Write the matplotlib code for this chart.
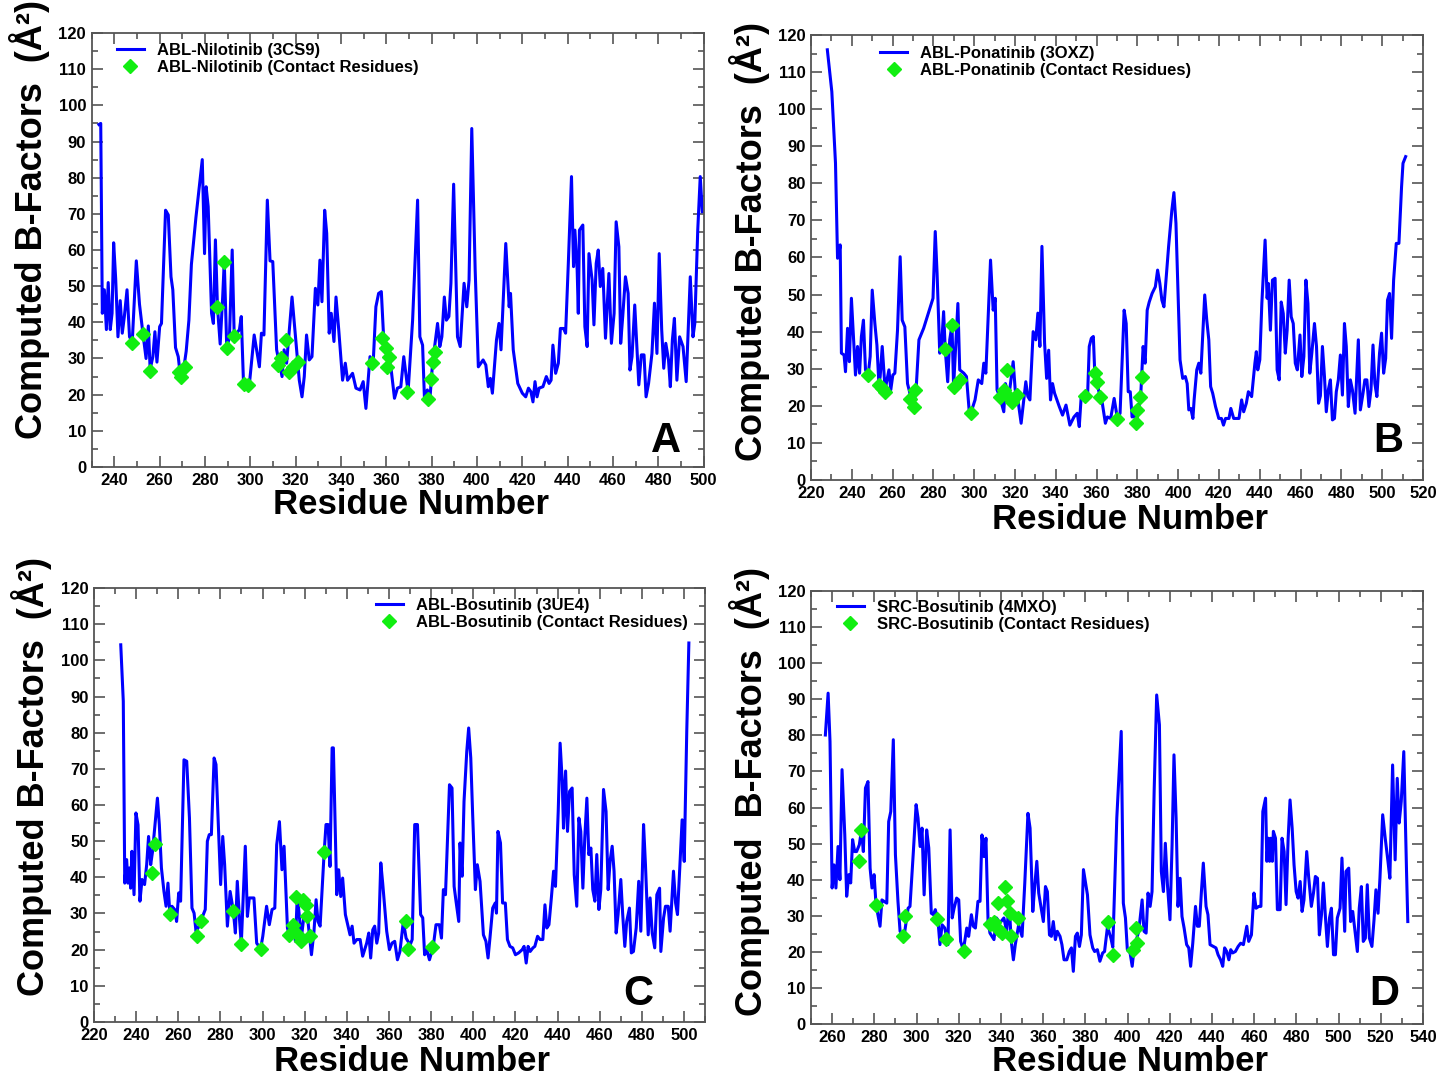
import numpy as np
import matplotlib
matplotlib.use('Agg')
import matplotlib.pyplot as plt
from matplotlib.ticker import MultipleLocator

plt.rcParams['font.family'] = ['Liberation Sans', 'DejaVu Sans']
plt.rcParams['font.weight'] = 'bold'

# ---------------- panel A : ABL-Nilotinib (3CS9) ----------------
a_res = [233.2, 234, 234.7, 235.6, 236.5, 237.3, 238.2, 239, 239.7, 240.6, 241.6, 242.6, 243.5, 244.4,
         245.6, 246.7, 247.9, 249.7, 251.1, 252.6, 254, 255, 255.8, 257, 257.9, 258.8, 260, 260.8,
         262.6, 263.8, 265, 265.8, 267, 268.2, 269, 270, 271.7, 272.9, 274, 276, 278.8, 279.8, 280.5,
         281.4, 282.9, 283.7, 284.6, 285.5, 286.7, 287.8, 288.5, 289.6, 290.8, 292, 292.9, 295.2, 296,
         297, 299.6, 301.7, 304, 304.9, 306, 307.5, 308.7, 309.9, 311.6, 312.8, 314, 314.9, 316, 318.4,
         320.2, 321.6, 322.8, 323.8, 324.8, 326, 327.2, 328.7, 329.8, 330.7, 331.6, 332.8, 333.7, 334.8,
         335.7, 336.9, 337.8, 339, 340.7, 341.9, 342.9, 345.1, 346.6, 348.4, 349.8, 351, 352.8, 354.2,
         355.4, 356.6, 357.8, 358.9, 362, 363.6, 364.9, 366.4, 367.7, 369.6, 371.6, 373.8, 374.8, 376,
         376.8, 378.1, 379.2, 380.4, 382.6, 383.6, 384.5, 385.6, 386.5, 387.6, 388.5, 389.7, 391.4,
         392.6, 394.3, 395.5, 396.5, 397.7, 399.2, 400.6, 402.7, 403.9, 405, 405.9, 406.8, 408.6, 409.7,
         410.6, 412.7, 414.2, 414.8, 416, 418, 420, 421.5, 422.7, 423.8, 424.7, 425.6, 426.5, 427.4,
         429.1, 430.6, 431.8, 432.7, 433.5, 434.7, 435.9, 436.8, 438.2, 439.1, 440.3, 441.7, 442.6,
         443.2, 444.2, 444.7, 445.2, 446.7, 447.6, 448.6, 449.4, 450.8, 451.6, 452.6, 453.5, 454.4,
         455.5, 456.7, 458.2, 459.3, 460.5, 461.4, 462.6, 463.4, 464.3, 465.5, 466.7, 467.5, 468.4,
         469.6, 471.4, 472.5, 473.7, 474.6, 475.7, 477.2, 478.3, 479.4, 480.4, 481.5, 482.4, 483.3,
         484.5, 485.3, 486.2, 487.1, 488.2, 489.4, 490.9, 492.3, 494.1, 495.3, 496.1, 497.4, 498.5, 499.4]
a_bf = [94.7, 95, 42.5, 49, 38, 51, 38, 42.5, 62, 52, 36, 46, 37, 41.5,
        49, 36, 34.6, 57, 45, 37, 30, 39, 27, 30.5, 37.4, 29, 38.8, 39.7,
        71, 69.7, 52.6, 49, 33, 30.5, 26, 24.5, 32, 40.6, 56, 69, 85, 59, 77.5,
        72, 42.5, 39.7, 62.8, 44.3, 34, 47, 56.8, 33, 36, 60, 36, 38, 41.6,
        23, 23, 36.5, 27.7, 37, 36.5, 73.8, 57, 56.8, 32.4, 28.7, 25, 32.4, 28.7, 47,
        34.2, 24, 19.4, 25, 36.5, 29.6, 30.5, 49.4, 44.8, 57.2, 45.7, 71, 64.6, 37,
        42.5, 34.7, 47, 38, 24, 28.7, 24, 25.9, 21.8, 21.3, 23.6, 16.2, 30.5, 28.7,
        44.3, 48, 48.5, 34.7, 27.7, 19, 21.8, 22.2, 30.5, 20.8, 40.6, 73.8, 36, 33.7,
        19.4, 21.3, 18.5, 28.7, 39.7, 33.3, 36, 47, 40.6, 41.6, 50.8, 78.2, 36,
        33.3, 50.8, 44.3, 51.7, 93.6, 54.5, 27.7, 29.6, 28.2, 22.2, 24.5, 20.4, 35.1, 39.7,
        32.4, 61.8, 44.3, 48, 32.4, 23.1, 20.4, 19.4, 21.8, 20.8, 18, 23.6, 19.4, 21.8,
        22.2, 25, 23.1, 24, 33.7, 25.9, 28.7, 38.3, 38.3, 37, 56.3, 80.3, 55.4,
        65.5, 54.5, 42.5, 65.5, 66.9, 38.8, 33.3, 59, 51.7, 39.3, 56.3, 60, 49.9,
        54.9, 35.6, 53.5, 34.2, 42.5, 67.8, 60.9, 34.2, 41.6, 52.6, 48, 26.8, 30.5,
        44.8, 22.7, 31, 31, 19.4, 23.1, 31.4, 45.3, 31.4, 59, 37.9, 27.3, 34.2,
        29.6, 22.2, 35.1, 41.1, 24, 36, 33.3, 23.6, 52.6, 36, 39.7, 65.5, 80.3, 70.6]
a_con_res = [248, 252.6, 255.6, 268.5, 269.5, 271, 285.5, 288.6, 289.6, 292.6, 297.3, 298.8, 312.1,
             313.6, 315.8, 317.2, 319, 320.9, 353.5, 358.3, 359.8, 361.3, 360.5, 369.1, 378.6,
             379.6, 380.4, 381.5]
a_con_bf = [34.4, 36.7, 26.6, 26.4, 25, 27.7, 44.3, 56.8, 33, 36.2, 23, 22.7, 28.2,
            30, 35.1, 26.4, 27.7, 29.1, 28.7, 35.6, 33, 30.5, 27.6, 20.6, 18.7,
            24.2, 29.1, 31.9]

# ---------------- panel B : ABL-Ponatinib (3OXZ) ----------------
b_res = [228, 230.2, 232, 233, 233.6, 234.3, 234.9, 236.2, 236.9, 237.9, 238.8, 239.8, 240.8, 241.8,
         242.8, 243.8, 244.7, 245.7, 246.7, 248, 249, 250, 251.3, 252.3, 253.3, 253.9, 254.9, 256.4,
         256.9, 258.2, 259.1, 260.1, 261.1, 262.4, 263.7, 264.7, 266, 267.3, 268.3, 269.5, 270.3,
         271.6, 272.9, 275.2, 279.8, 280.9, 281.8, 283.1, 284, 285, 285.8, 287, 288, 289.1, 289.9,
         290.9, 292, 292.9, 294.9, 296.2, 297.5, 298.5, 300.4, 302, 303.7, 304.7, 305.7, 308, 309.3,
         310.3, 311.2, 312.5, 314.5, 315.3, 317, 319.1, 320.1, 321.1, 323, 325.3, 326.3, 327.3, 328.9,
         330.2, 331.2, 332.2, 333.2, 334.5, 335.5, 336.5, 337.4, 338.4, 339.4, 341.7, 343.3, 345,
         346.9, 348.9, 350.5, 351.5, 352.5, 354.2, 355.5, 356.4, 357.4, 358.4, 359.1, 360, 361.7,
         362.8, 364.3, 365.3, 366.9, 368.6, 370.2, 371.5, 373.5, 374.5, 375.5, 376.5, 377.4, 378.4,
         379.4, 381.6, 382.8, 383.8, 384.8, 385.8, 387.2, 388.8, 389.9, 391, 392, 393, 395.3, 396.9,
         397.9, 398.9, 400.9, 402.2, 403.5, 404.4, 405.2, 406.2, 407.2, 407.8, 409.1, 410.1, 411.1,
         413, 414, 415, 415.9, 416.9, 418.3, 419.9, 421.2, 422.2, 423.2, 424.9, 425.8, 427.2, 429.8,
         431.1, 432.1, 433.4, 434.4, 436, 437.6, 438.3, 439, 440, 441, 442.6, 443.6, 444.2, 445.2,
         446.2, 447.5, 448.5, 449.5, 450.5, 451.5, 452.5, 453.4, 454.4, 455.4, 456.4, 457.4, 458.4,
         459.7, 460.6, 461.6, 462.6, 463.6, 464.5, 465.5, 466.8, 467.8, 468.8, 469.7, 470.7, 471.7,
         472.6, 473.6, 474.6, 475.6, 476.6, 477.5, 478.5, 479.5, 480.5, 481.5, 482.4, 483.4, 484.4,
         485.4, 486.7, 488.3, 489.3, 490.6, 491.5, 492.5, 493.5, 494.5, 495.5, 496.4, 497.4, 498.7,
         499.7, 500.7, 501.7, 502.6, 503.6, 504.6, 505.6, 506.9, 508.2, 509.5, 510.2, 511.5]
b_bf = [116, 104.7, 85.4, 59.8, 61, 63.4, 34.2, 33.7, 29.2, 40.9, 31.9, 49, 38.7, 28.3,
        36, 28.8, 38.7, 43.1, 29.7, 28.3, 33.3, 51.2, 42.2, 36.4, 25.6, 27.9, 36, 23.8,
        26, 29.7, 24.3, 28.3, 28.8, 40.4, 60.2, 43.1, 41.3, 26, 23.8, 20.5, 19.8,
        25.2, 37.8, 40.9, 49, 67, 55.7, 34.2, 36.4, 45.4, 35.2, 26.5, 37.8, 41.8, 25.2,
        36, 47.6, 29.7, 28.8, 27.9, 18.9, 18.3, 21.6, 27, 26, 31.5, 28.8, 59.3, 45.8,
        49, 24.3, 22.5, 18.4, 26, 22.5, 31.9, 24.3, 22.9, 15.3, 26.5, 22.5, 21.6, 40,
        37.8, 45, 36, 63, 36.9, 27.4, 35, 21.6, 26, 23.4, 19.8, 17.5, 20.2,
        14.8, 17, 18, 14.4, 22.9, 22.7, 21.6, 36, 38.2, 38.7, 28.8, 26.5, 22.5,
        20.7, 15.3, 17, 16.6, 22, 16.6, 18, 45.8, 42.2, 23.8, 23.8, 17, 18,
        15.3, 22.5, 36, 31.5, 45.8, 48, 50.3, 52.1, 56.6, 53, 48.5, 46.7, 63, 72.8,
        77.5, 69.2, 32.4, 27.4, 27.9, 26, 18.9, 19.3, 16.6, 21.6, 29.7, 31.5, 28.8,
        49.9, 43.1, 37.8, 25.2, 23.4, 19.8, 16.6, 16.6, 14.8, 16.6, 16.6, 19.3, 16.6, 16.6,
        21.6, 18.4, 20.7, 23.8, 22.5, 31.5, 34.6, 29.7, 32.4, 47.6, 64.7, 49, 53, 40.4,
        53.9, 54.4, 29.7, 27, 48, 44.9, 34.2, 40.4, 53.9, 44, 42.2, 31.5, 29.7,
        39.1, 27.9, 33.3, 53.9, 47.6, 28.8, 34.2, 42.2, 36, 20.7, 22.7, 36, 27.9,
        18.4, 24.3, 27, 16.2, 16.6, 23.8, 27, 33.7, 22.9, 42.2, 36, 19.8, 27,
        24.3, 18, 37.8, 18.9, 23.4, 27, 27, 19.8, 24.3, 36.4, 26, 22.5, 34.2,
        39.6, 28.8, 32.8, 48.5, 50.3, 38.2, 53.9, 63.8, 63.8, 79.1, 85.4, 87.2]
b_con_res = [248, 253.3, 254.7, 256.4, 268.6, 270.3, 271.1, 285.8, 289.1, 289.9, 293.2, 298.5,
             312.5, 314.5, 316.2, 317, 318.6, 321.1, 354.2, 359.1, 360, 361.7, 370, 379.4, 380,
             381.3, 382.3]
b_con_bf = [28.3, 25.6, 24.7, 23.8, 21.8, 19.8, 24.3, 35.2, 41.8, 25.2, 27, 18,
            22.5, 24.3, 29.7, 22.5, 21.1, 22.9, 22.7, 28.8, 26.5, 22.5, 16.4, 15.3, 19,
            22.3, 27.9]

# ---------------- panel C : ABL-Bosutinib (3UE4) ----------------
c_res = [232.7, 233.9, 234.6, 235.5, 236.1, 236.8, 237.4, 238, 239, 239.9, 240.9, 241.8, 242.8, 244,
         245, 245.9, 246.9, 247.8, 250.1, 251, 252, 253.2, 254.2, 255.1, 256, 257, 258.3, 259.2,
         260.2, 261.1, 262.7, 264, 265.3, 266.5, 267.5, 268.4, 269.4, 270.6, 272.8, 273.8, 274.7,
         275.7, 277, 277.9, 278.9, 280.1, 281.1, 282, 283.3, 284.6, 286.1, 287.1, 288, 289, 289.9,
         291.8, 292.8, 293.7, 295.9, 297.2, 299.1, 300.1, 301.9, 303.2, 304.5, 305.8, 306.7, 308,
         309.2, 310.2, 311.8, 312.7, 314.6, 315.6, 316.5, 318.4, 319.7, 321.3, 323.2, 324.4, 325.4,
         326.3, 327.3, 329.2, 330.1, 331.1, 332, 333, 333.6, 335.2, 336.1, 337.1, 338, 339.3, 341.5,
         342.5, 343.4, 344.7, 346.3, 347.5, 349.4, 350.4, 351.3, 352.3, 353.2, 354.2, 355.1, 356.1,
         357, 358.9, 360.2, 361.4, 362.7, 364, 365.2, 366.8, 368.1, 370, 371, 372.2, 373.5, 375, 376,
         376.9, 377.9, 379.2, 381, 382.3, 383.9, 384.9, 385.8, 386.8, 388.7, 389.9, 390.9, 391.8,
         393.1, 393.7, 394.7, 395.6, 396.9, 397.8, 398.8, 399.7, 401, 401.9, 403.2, 404.8, 406, 407,
         407.9, 409.2, 410.4, 411, 411.7, 412.9, 413.9, 415.2, 416.2, 417.4, 418.7, 420, 421.5, 423.2,
         424.1, 425.1, 426, 427, 428.3, 429.2, 430.5, 431.7, 433, 434, 434.9, 435.9, 437.1, 438.1,
         439, 440.3, 441.2, 442.2, 442.8, 443.8, 444.7, 445.7, 446.9, 447.9, 449.1, 450.1, 451, 452,
         452.9, 453.9, 454.8, 455.8, 456.7, 457.7, 458.6, 459.6, 460.5, 461.8, 463, 464, 464.9, 465.9,
         466.8, 467.8, 468.7, 470, 470.9, 471.9, 472.8, 474.1, 475, 476, 477.3, 478.5, 479.5, 480.8,
         481.7, 483, 483.9, 484.9, 486.1, 487.1, 488.4, 489, 490.3, 491.2, 492.5, 493.4, 495, 496,
         496.9, 498.2, 499.1, 500.1, 501.3, 502.3]
c_bf = [104.3, 88.7, 38.4, 44.9, 38.4, 42.6, 37, 47.2, 35.2, 57.8, 54.5, 33.4, 39.4, 38,
        43.5, 51.3, 43.5, 47.2, 61.9, 54.6, 42.6, 36.1, 32, 38.4, 30, 32, 31.1, 27.8,
        35.7, 33.4, 72.5, 72.1, 56.4, 31.5, 30.1, 25.1, 26, 27.8, 31.1, 50, 51.8,
        51.8, 73, 71.2, 56.4, 38, 51.3, 43.5, 26.5, 36.1, 30.8, 24.6, 38.9, 28.8, 21.6,
        48.6, 29.2, 34.3, 34.3, 21.8, 20.3, 23.7, 32, 26.9, 31.1, 31.5, 49, 55.4,
        42.1, 48.6, 26, 24, 26.9, 22.3, 35.2, 23.2, 29.7, 29.2, 18.6, 25.1, 33.8,
        27.8, 26.5, 46.7, 54.6, 54.6, 43, 75.8, 75.8, 35.2, 42.1, 34.7, 39.8, 29.7, 24.1,
        26.5, 21.8, 22.8, 22.8, 18.2, 21.8, 24.6, 17.7, 25.5, 26.5, 21.8, 24.6, 44,
        38.4, 25.1, 20, 21.8, 22.3, 17.2, 19.5, 27.8, 23.2, 21.3, 22.8, 54.6, 54.6, 29.7, 28.8,
        18.6, 20, 17.2, 20.9, 26.9, 26.9, 23.2, 36.6, 35.2, 65.6, 64.7, 37.5, 33.4,
        27.8, 49.5, 40.3, 61, 74.8, 81.3, 73, 57.3, 36.6, 43.5, 38.9, 24.1, 22.3, 17.7,
        23.2, 31.5, 32.9, 30.1, 52.7, 49.5, 32.9, 32.9, 22.8, 20.9, 20.5, 18.6, 19.1, 20,
        20.9, 16.3, 20.9, 19.5, 20.5, 20.9, 23.7, 22.8, 22.8, 32.4, 26, 26.9, 34.7, 41.7,
        37.5, 58.2, 77.1, 66.6, 53.6, 69.4, 52.7, 63.8, 64.7, 40.7, 32, 56.4, 52.7, 37,
        50.9, 61.9, 46.3, 48.1, 36.6, 33.4, 46.3, 31.1, 36.6, 64.3, 58.2, 36.6, 44.4, 48.6,
        41.7, 24.6, 29.7, 39.4, 29.7, 20.9, 27.8, 31.5, 19.1, 19.5, 26, 38.9, 25.1, 54.6,
        43.5, 24.1, 34.3, 24.6, 20.5, 35.2, 37, 19.5, 28.8, 32, 32, 25.1, 41.7, 32.9,
        29.7, 44.9, 55.9, 44.4, 80.4, 104.8]
c_con_res = [247.7, 249, 255.9, 268.7, 270.6, 286.1, 289.9, 299.1, 312.7, 314.6, 315.9, 316.5, 318.1,
             319.4, 320.5, 321.3, 322.5, 329.2, 368, 369, 380.2]
c_con_bf = [41.2, 49.2, 29.9, 23.7, 27.8, 30.8, 21.6, 20.3, 24, 26.9, 34.6, 24.3, 22.5,
            33.8, 32.4, 29.2, 23.7, 46.9, 27.8, 20.2, 20.6]

# ---------------- panel D : SRC-Bosutinib (4MXO) ----------------
d_res = [256.8, 258.1, 259, 260, 260.9, 261.8, 262.8, 263.7, 264.7, 266, 266.9, 267.9, 268.8, 269.7,
         270.7, 271.6, 272.9, 273.9, 274.8, 275.8, 277, 278, 278.9, 279.9, 280.8, 282.7, 283.6, 285.9,
         286.8, 287.8, 289, 290, 291.2, 292.2, 294.1, 296, 296.9, 298.5, 299.8, 300.7, 301.7, 302.6,
         303.6, 304.8, 305.8, 307, 308, 308.9, 310.2, 311.1, 312.1, 313.4, 314.9, 315.9, 316.9, 317.8,
         319, 320, 320.9, 322.2, 323.8, 324.7, 326, 326.9, 327.9, 329.1, 330.1, 331, 332, 332.9, 333.9,
         334.8, 336.7, 337.9, 339.5, 341.4, 342.7, 343.9, 344.9, 345.9, 346.8, 348.4, 350, 351.3,
         352.8, 353.8, 355.1, 356, 357, 357.9, 358.8, 360.1, 361.1, 362, 363, 363.9, 364.8, 365.8,
         366.7, 368, 368.9, 369.9, 371.2, 372.4, 373.4, 374.3, 375.3, 376.2, 377.2, 378.1, 379.1, 380,
         381, 382.2, 383.5, 384.4, 385.7, 386.9, 388.2, 389.1, 390.5, 392.1, 393, 394.9, 397, 398, 399,
         399.9, 401.2, 402.2, 403.1, 405.3, 406.9, 407.8, 408.8, 409.7, 410.7, 411.6, 412.6, 413.8,
         415.1, 416, 417, 417.9, 418.9, 420.1, 421.1, 422, 423, 423.9, 424.9, 425.8, 426.8, 428, 429,
         429.9, 430.9, 432.2, 433.1, 434, 435, 435.9, 437.2, 438.1, 439.1, 440.7, 441.9, 442.9, 444.1,
         445.1, 446, 447, 448, 448.9, 449.8, 451.1, 452.4, 453.6, 454.9, 456.5, 457.4, 458.7, 459.9,
         460.9, 462.2, 463.2, 464.1, 465.4, 466, 466.7, 467.3, 467.9, 468.6, 469.1, 470.1, 471, 472.3,
         473.2, 474.2, 475.1, 476.1, 477, 478, 478.9, 479.9, 480.8, 481.8, 482.7, 483.6, 484.9, 485.8,
         487.1, 488.1, 489, 490, 490.9, 491.9, 492.8, 493.8, 494.7, 495.7, 496.6, 497.6, 498.5, 499.4,
         500.7, 501.6, 502.9, 503.5, 504.8, 505.7, 506.7, 507.6, 508.9, 509.8, 510.8, 511.7, 512.7,
         513.6, 514.6, 515.8, 516.8, 517.7, 518.7, 519.6, 520.9, 522.1, 523.4, 524.3, 525.6, 526.8,
         527.8, 528.7, 529.7, 530.9, 532.2, 532.8]
d_bf = [80.1, 91.7, 78.3, 37.7, 44.1, 37.7, 49.2, 40, 70.5, 52.4, 35.4, 41.4, 39.1, 51.1,
        47.8, 47.8, 49.7, 53.8, 47.8, 65.4, 67.2, 43.2, 37.7, 41.4, 33.1, 27.1, 34.4, 33.5,
        56.1, 58.9, 78.8, 46.9, 34, 25.7, 24.3, 32.1, 32.6, 47.8, 60.8, 57.1, 49.2, 54.3,
        35.8, 53.8, 48.8, 30.7, 30.3, 31.7, 28.4, 22, 27.5, 26.6, 22, 53.8, 29.4, 32.1,
        34.9, 34.4, 22.9, 20.5, 26.6, 24.3, 30.3, 27.1, 26.6, 34, 34, 52.4, 46.4, 51.5, 28.4,
        25.2, 23.4, 29.4, 28, 29.4, 25.7, 33.1, 22.9, 17.8, 22, 27.5, 24.3, 39.1,
        58.4, 54.3, 31.2, 38.1, 45.1, 36.3, 33.1, 28.4, 38.1, 36.7, 24.7, 24.3, 28.4, 23.4,
        25.7, 24.3, 22, 17.8, 17.8, 20.1, 21.1, 14.6, 24.3, 25.2, 21.5, 24.7, 42.8, 39.5,
        35.8, 24.7, 21.1, 20.1, 20.6, 17.4, 19.7, 20.1, 27, 23.8, 21.3, 57.1, 81.1, 33.5, 29.4,
        20.6, 19.7, 16, 21.1, 25.7, 34.4, 25.7, 25.2, 36.3, 32.6, 36.7, 64.5, 91.2,
        82.9, 42.3, 36.7, 50.1, 38.6, 28.9, 49.7, 74.6, 57.1, 32.6, 40.4, 29.8, 26.6, 22, 21.1,
        16, 22.4, 32.6, 27.1, 27.1, 36.7, 44.6, 32.6, 30.3, 22, 21.5, 21.1, 19.2, 17.8,
        16, 21.1, 20.1, 17.8, 20.6, 19.7, 20.1, 21.5, 22.4, 22, 27.1, 22.9, 24.7, 36.3,
        32.1, 32.6, 32.6, 58.9, 62.6, 45.1, 51.5, 45.1, 51.5, 45.1, 53.4, 51.5, 31.7, 31.7,
        51.5, 47.8, 33.1, 51.5, 62.1, 54.3, 44.1, 36.7, 34.9, 39.5, 31.2, 34.4, 47.8, 40.9,
        32.6, 36.3, 40.9, 40.4, 24.7, 30.3, 39.1, 29.4, 21.5, 29.4, 32.1, 19.2, 19.2, 29.4,
        32.1, 46, 25.7, 42.3, 43.2, 28.4, 31.2, 26.6, 20.1, 32.1, 38.1, 22.9, 23.8,
        38.6, 23.8, 21.5, 28.9, 37.2, 30.7, 40.4, 58, 51.5, 45.1, 40.4, 71.8, 45.5,
        68.1, 55.7, 61.7, 75.5, 42.3, 28.4]
d_con_res = [272.7, 273.9, 280.8, 293.4, 294.7, 309.6, 313.8, 322.7, 334.8, 336.7, 338.6, 339.3, 340.5,
             341.8, 342.7, 344.3, 345, 348.3, 390.9, 393, 402.4, 404, 404.3]
d_con_bf = [45.1, 53.8, 33.1, 24.3, 30, 29.2, 23.6, 20.3, 27.7, 28.4, 33.5, 26.1, 25.2,
            38.1, 34, 30.7, 24.3, 29.4, 28.3, 19, 20.6, 26.6, 22.4]

line_labels = ['ABL-Nilotinib (3CS9)', 'ABL-Ponatinib (3OXZ)', 'ABL-Bosutinib (3UE4)', 'SRC-Bosutinib (4MXO)']
dot_labels = ['ABL-Nilotinib (Contact Residues)', 'ABL-Ponatinib (Contact Residues)',
              'ABL-Bosutinib (Contact Residues)', 'SRC-Bosutinib (Contact Residues)']
letters = ['A', 'B', 'C', 'D']
xlims = [(230, 500), (220, 520), (220, 510), (250, 540)]
ylabels = ['Computed B-Factors  (Å²)', 'Computed B-Factors  (Å²)',
           'Computed B-Factors  (Å²)', 'Computed  B-Factors  (Å²)']

# axes rectangles [left, bottom, width, height] in figure fraction
rects = [[0.0630, 0.566, 0.4206, 0.4033],
         [0.5574, 0.5539, 0.4206, 0.4136],
         [0.0646, 0.0502, 0.4200, 0.4033],
         [0.5574, 0.0483, 0.4206, 0.4024]]
leg_pos = [(0.0415, 0.978), (0.113, 0.976), (0.4615, 0.978), (0.0425, 0.980)]
ylab_pos = [(-0.068, 0.57), (-0.067, 0.537), (-0.069, 0.565), (-0.067, 0.538)]
xlab_pos = [(0.522, -0.048), (0.521, -0.052), (0.52, -0.053), (0.521, -0.0485)]
let_pos = [(0.963, 0.035), (0.967, 0.063), (0.915, 0.039), (0.962, 0.044)]

data = [(a_res, a_bf, a_con_res, a_con_bf),
        (b_res, b_bf, b_con_res, b_con_bf),
        (c_res, c_bf, c_con_res, c_con_bf),
        (d_res, d_bf, d_con_res, d_con_bf)]

fig = plt.figure(figsize=(14.55, 10.76), dpi=100)
spine_col = '#555555'

for i in range(4):
    res, bf, cres, cbf = data[i]
    ax = fig.add_axes(rects[i])
    ax.plot(res, bf, color='#0000ff', lw=2.2, label=line_labels[i], zorder=2)
    ax.plot(cres, cbf, 'D', color='#11ee11', ms=7, ls='none', label=dot_labels[i], zorder=3)

    ax.set_xlim(*xlims[i])
    ax.set_ylim(0, 120)
    ax.xaxis.set_major_locator(MultipleLocator(20))
    ax.xaxis.set_minor_locator(MultipleLocator(10))
    ax.yaxis.set_major_locator(MultipleLocator(10))
    ax.yaxis.set_minor_locator(MultipleLocator(5))
    ax.tick_params(which='both', direction='in', top=True, right=True, color=spine_col,
                   width=1.2, labelsize=12)
    ax.tick_params(axis='x', which='both', pad=4.5)
    ax.tick_params(axis='y', which='both', pad=4)
    ax.tick_params(which='major', length=8)
    ax.tick_params(which='minor', length=4)
    for lab in ax.get_xticklabels() + ax.get_yticklabels():
        lab.set_fontweight('bold')
    for sp in ax.spines.values():
        sp.set_color(spine_col)
        sp.set_linewidth(1.3)

    ax.set_xlabel('Residue Number', fontsize=25, fontweight='bold')
    ax.set_ylabel(ylabels[i], fontsize=26, fontweight='bold')
    ax.xaxis.set_label_coords(*xlab_pos[i])
    ax.yaxis.set_label_coords(*ylab_pos[i])

    ax.legend(loc='upper left', bbox_to_anchor=leg_pos[i], frameon=False,
              borderpad=0, borderaxespad=0, handlelength=1.6, handletextpad=0.8,
              labelspacing=0.12, prop={'size': 12, 'weight': 'bold'})

    ax.text(let_pos[i][0], let_pos[i][1], letters[i], transform=ax.transAxes,
            ha='right', va='baseline', fontsize=30, fontweight='bold')

fig.savefig('out.png', dpi=100)
